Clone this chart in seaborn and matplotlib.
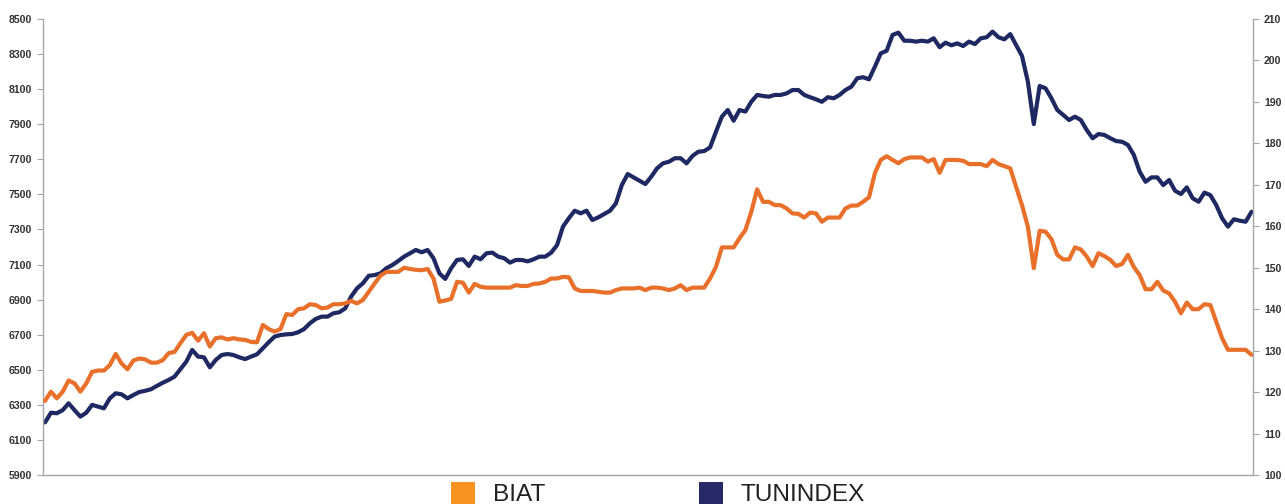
import matplotlib
matplotlib.use("Agg")
import matplotlib.pyplot as plt
from matplotlib.patches import Patch
import seaborn as sns
import pandas as pd

tunindex = [
    6200, 6255, 6252, 6270, 6309, 6270, 6233, 6255, 6300, 6290, 6280, 6337, 6366, 6360, 6337, 6356, 6373, 6380,
    6389, 6408, 6426, 6442, 6461, 6503, 6546, 6613, 6575, 6571, 6514, 6556, 6584, 6590, 6584, 6571, 6561, 6575,
    6588, 6622, 6657, 6689, 6698, 6702, 6704, 6714, 6732, 6765, 6790, 6803, 6803, 6822, 6828, 6850, 6917, 6964,
    6993, 7036, 7040, 7050, 7079, 7097, 7120, 7145, 7164, 7183, 7170, 7183, 7136, 7050, 7018, 7079, 7126,
    7130, 7092, 7145, 7130, 7164, 7168, 7145, 7136, 7111, 7126, 7126, 7118, 7130, 7145, 7145, 7168, 7211, 7316,
    7364, 7407, 7392, 7407, 7354, 7369, 7388, 7407, 7449, 7553, 7616, 7597, 7578, 7559, 7601, 7649, 7677, 7686,
    7706, 7706, 7677, 7719, 7743, 7747, 7768, 7857, 7943, 7981, 7920, 7981, 7972, 8028, 8067, 8061, 8057, 8067,
    8067, 8076, 8095, 8095, 8067, 8054, 8042, 8028, 8054, 8048, 8067, 8095, 8114, 8162, 8168, 8156, 8228, 8304,
    8319, 8409, 8422, 8376, 8376, 8371, 8376, 8371, 8390, 8339, 8365, 8350, 8361, 8346, 8371, 8357, 8390, 8396,
    8428, 8396, 8384, 8414, 8352, 8289, 8142, 7901, 8118, 8105, 8048, 7981, 7953, 7924, 7943, 7924, 7867, 7820,
    7844, 7839, 7820, 7804, 7800, 7782, 7725, 7629, 7572, 7597, 7597, 7553, 7582, 7521, 7502, 7540, 7478, 7458,
    7510, 7496, 7439, 7364, 7316, 7358, 7350, 7344, 7401,
]

biat = [
    117.9, 120.1, 118.5, 120.1, 122.8, 122.1, 120.1, 122.1, 124.9, 125.2, 125.2, 126.5, 129.2, 126.9, 125.5, 127.6,
    128.1, 127.9, 127.1, 127.1, 127.7, 129.4, 129.7, 131.8, 133.8, 134.3, 132.4, 134.2, 131.0, 133.0, 133.2, 132.7,
    133.0, 132.7, 132.6, 132.1,
    132.0, 136.2, 135.2, 134.6, 135.2, 138.8, 138.6, 140.0, 140.2, 141.2, 141.0, 140.2, 140.4, 141.2, 141.2, 141.4,
    142.0, 141.4, 142.2, 144.2, 146.2, 148.1, 149.0, 149.0, 149.0, 150.0, 149.7, 149.5, 149.4, 149.7, 147.4, 141.8,
    142.1, 142.5, 146.6,
    146.4, 144.0, 146.1, 145.4, 145.2, 145.2, 145.2, 145.2, 145.2, 145.8, 145.6, 145.6, 146.1, 146.2, 146.6, 147.4,
    147.4, 147.8, 147.7, 145.0, 144.4, 144.4, 144.4, 144.2, 144.0, 144.0, 144.6, 145.0, 145.0, 145.0, 145.2, 144.6,
    145.2, 145.2, 145.0, 144.6,
    145.0, 145.8, 144.6, 145.2, 145.2, 145.2, 147.4, 150.2, 154.9, 154.9, 154.9, 157.1, 159.1, 163.5, 168.9, 165.9,
    165.9, 165.1, 165.1, 164.3, 163.1, 163.0, 162.1, 163.3, 163.1, 161.1, 162.1, 162.1, 162.1, 164.3, 165.0, 165.0,
    165.9, 167.0, 172.8, 176.0,
    176.9, 176.0, 175.2, 176.2, 176.6, 176.6, 176.6, 175.6, 176.2, 172.9, 176.0, 176.0, 176.0, 175.8, 175.0, 175.0,
    175.0, 174.5, 176.0, 175.0, 174.5, 174.0, 169.5, 165.1, 159.9, 149.9, 158.9, 158.7, 156.9, 153.1, 152.0, 152.0,
    154.9, 154.4, 152.7, 150.4,
    153.5, 152.8, 151.9, 150.4, 150.9, 153.1, 150.2, 148.2, 144.8, 144.8, 146.6, 144.5, 143.8, 141.8, 139.0, 141.6,
    140.0, 140.0, 141.2, 141.0, 137.0, 133.0, 130.2, 130.2, 130.2, 130.2, 129.0,
]

series_names = ["BIAT", "TUNINDEX"]
left_ticks = [5900, 6100, 6300, 6500, 6700, 6900, 7100, 7300, 7500, 7700, 7900, 8100, 8300, 8500]
right_ticks = [100, 110, 120, 130, 140, 150, 160, 170, 180, 190, 200, 210]

week = list(range(len(tunindex)))
df = pd.DataFrame({"week": week, "TUNINDEX": tunindex, "BIAT": biat})

# ---- styling ----
sns.set_style("white")
plt.rcParams["font.family"] = ["Liberation Sans", "DejaVu Sans"]

NAVY = "#1E2862"
ORANGE = "#E8702A"
LEG_ORANGE = "#F7931E"
LEG_NAVY = "#262A66"
AXIS_GREY = "#A6A6A6"

fig = plt.figure(figsize=(12.85, 5.04), dpi=100)
ax = fig.add_axes([43 / 1285, 29 / 504, (1253 - 43) / 1285, (475 - 19) / 504])
ax2 = ax.twinx()

sns.lineplot(data=df, x="week", y="TUNINDEX", ax=ax, color=NAVY, linewidth=3.0)
sns.lineplot(data=df, x="week", y="BIAT", ax=ax2, color=ORANGE, linewidth=3.0)

ax.set_xlim(-0.35, len(week) - 1 + 0.25)
ax.set_ylim(left_ticks[0], left_ticks[-1])
ax2.set_ylim(right_ticks[0], right_ticks[-1])
ax.set_yticks(left_ticks)
ax2.set_yticks(right_ticks)
ax.set_yticklabels([str(t) for t in left_ticks])
ax2.set_yticklabels([str(t) for t in right_ticks])
ax.set_xticks([])
ax.set_xlabel("")
ax.set_ylabel("")
ax2.set_ylabel("")

for a in (ax, ax2):
    for s in a.spines.values():
        s.set_visible(False)
    a.tick_params(axis="y", length=4, width=0.8, color=AXIS_GREY, pad=4.0,
                  labelsize=7.6, labelcolor="#333333")
    for lab in a.get_yticklabels():
        lab.set_fontweight("bold")

ax.spines["left"].set_visible(True)
ax.spines["bottom"].set_visible(True)
ax2.spines["right"].set_visible(True)
for s in (ax.spines["left"], ax.spines["bottom"], ax2.spines["right"]):
    s.set_color(AXIS_GREY)
    s.set_linewidth(1.0)

handles = [Patch(facecolor=LEG_ORANGE, edgecolor="none"),
           Patch(facecolor=LEG_NAVY, edgecolor="none")]
fig.legend(handles, series_names, loc="center left", bbox_to_anchor=(451 / 1285, 10 / 504),
           ncol=2, frameon=False, fontsize=17.6, handlelength=1.0, handleheight=1.0,
           handletextpad=0.7, columnspacing=6.3, borderpad=0, borderaxespad=0,
           labelcolor="#222222")

fig.savefig("out.png", dpi=100)
